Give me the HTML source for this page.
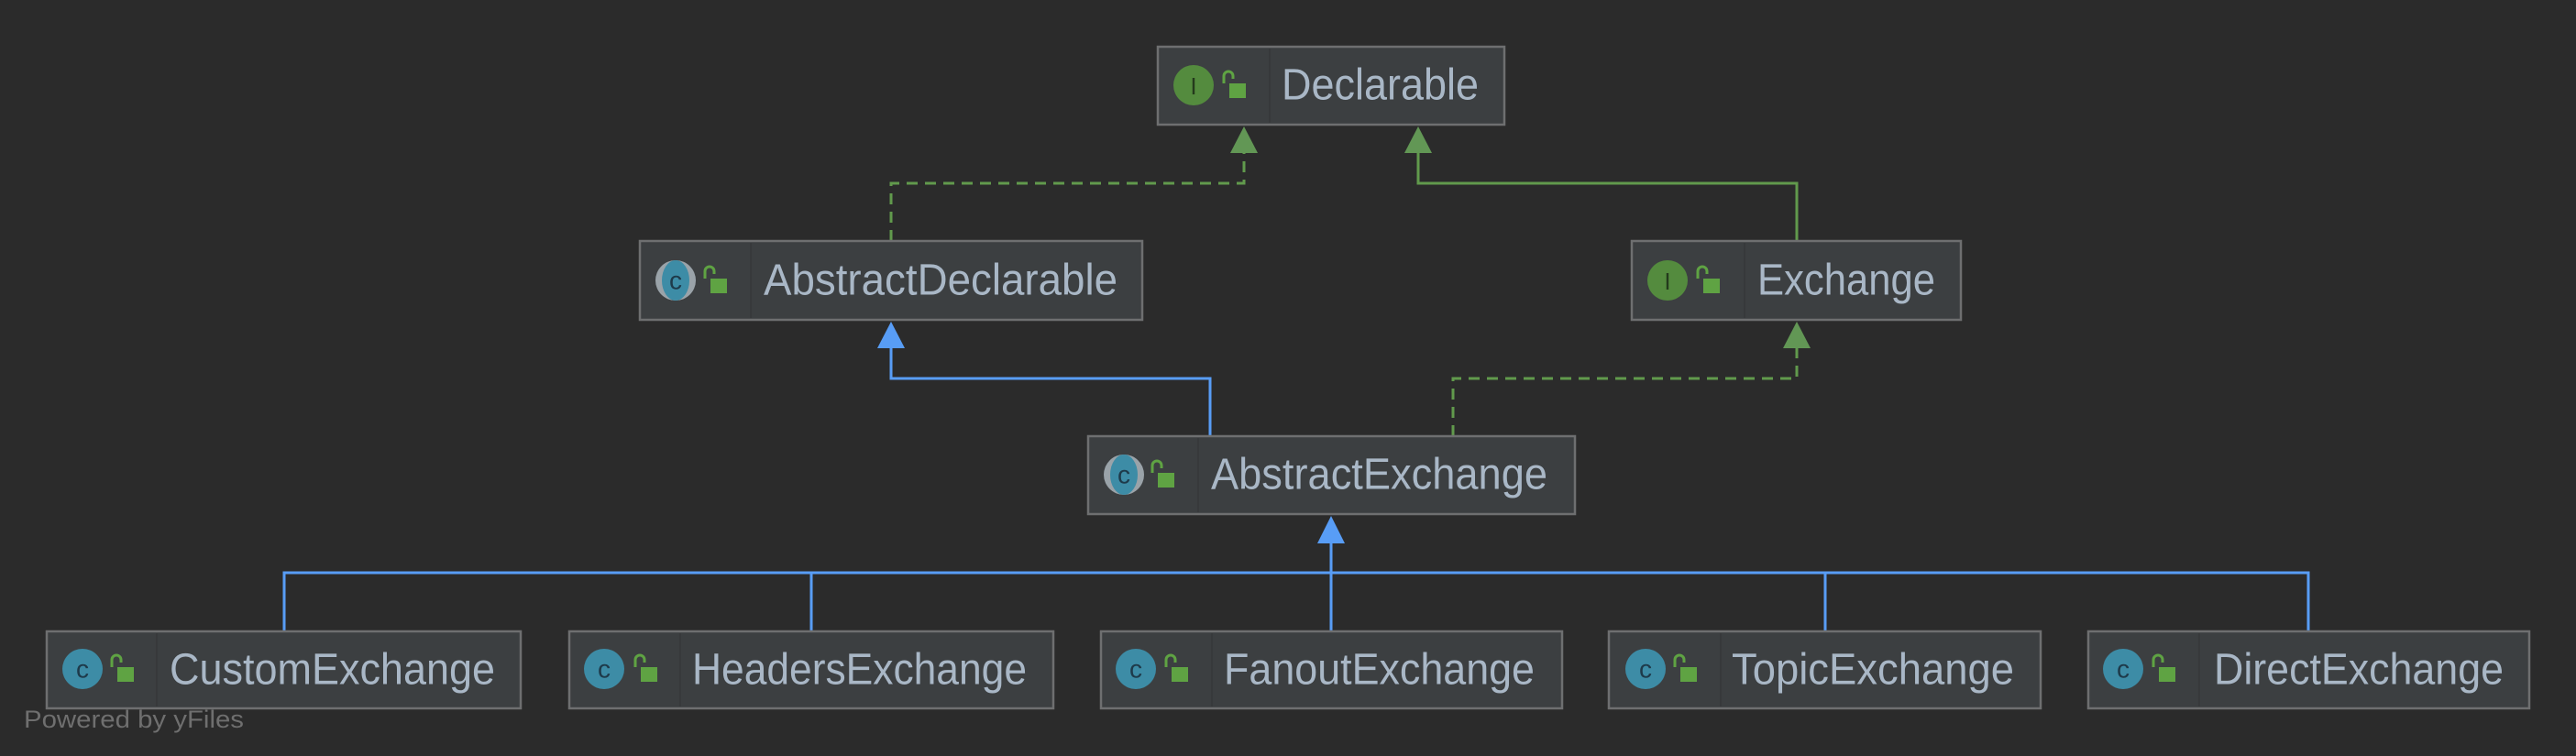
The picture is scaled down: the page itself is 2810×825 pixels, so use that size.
<!DOCTYPE html>
<html><head><meta charset="utf-8"><style>
html,body{margin:0;padding:0;background:#2b2b2b;}
svg{display:block;}
text{font-family:"Liberation Sans","DejaVu Sans",sans-serif;}
</style></head><body>
<svg width="2810" height="825" viewBox="0 0 2810 825" xmlns="http://www.w3.org/2000/svg">
<rect width="2810" height="825" fill="#2b2b2b"/>
<defs>
  <g id="lock">
    <path d="M-13,-4 V-12 a5,5 0 0 1 10,0 V-9" fill="none" stroke="#5fa343" stroke-width="3"/>
    <rect x="-7" y="-4" width="18" height="16" fill="#5fa343"/>
  </g>
  <g id="ci">
    <circle r="22" fill="#3d8ca6"/>
    <text x="0" y="0" font-size="28" fill="#1e3a4a" text-anchor="middle" dominant-baseline="central">c</text>
  </g>
  <g id="ca">
    <circle r="22" fill="#9aa3a9"/>
    <ellipse rx="15" ry="22" fill="#3d8ca6"/>
    <text x="0" y="0" font-size="28" fill="#1e3a4a" text-anchor="middle" dominant-baseline="central">c</text>
  </g>
  <g id="ii">
    <circle r="22" fill="#548b3e"/>
    <text x="0" y="1" font-size="26" fill="#243a1c" text-anchor="middle" dominant-baseline="central" font-family="Liberation Serif,serif">I</text>
  </g>
</defs>

<g fill="none" stroke-width="3">
  <path d="M972,263 V200 H1357 V165" stroke="#619a4c" stroke-dasharray="12 8"/>
  <path d="M1960,263 V200 H1547 V165" stroke="#619a4c"/>
  <path d="M1585,476 V413 H1960 V378" stroke="#619a4c" stroke-dasharray="12 8"/>
  <path d="M1320,476 V413 H972 V378" stroke="#589df6"/>
  <path d="M310,689 V625 H2518 V689 M885,625 V689 M1452,625 V689 M1452,625 V591 M1991,625 V689" stroke="#589df6"/>
</g>
<g>
  <polygon points="1357,138 1342,167 1372,167" fill="#629755"/>
  <polygon points="1547,138 1532,167 1562,167" fill="#629755"/>
  <polygon points="1960,351 1945,380 1975,380" fill="#629755"/>
  <polygon points="972,351 957,380 987,380" fill="#589df6"/>
  <polygon points="1452,563 1437,593 1467,593" fill="#589df6"/>
</g>

<g stroke="#6e6f70" stroke-width="2.5" fill="#3c3f41">
  <rect x="1263" y="51" width="378" height="85"/>
  <rect x="698" y="263" width="548" height="86"/>
  <rect x="1780" y="263" width="359" height="86"/>
  <rect x="1187" y="476" width="531" height="85"/>
  <rect x="51" y="689" width="517" height="84"/>
  <rect x="621" y="689" width="528" height="84"/>
  <rect x="1201" y="689" width="503" height="84"/>
  <rect x="1755" y="689" width="471" height="84"/>
  <rect x="2278" y="689" width="481" height="84"/>
</g>
<g stroke="#37393b" stroke-width="2">
  <line x1="1385" y1="53" x2="1385" y2="134"/>
  <line x1="819" y1="265" x2="819" y2="347"/>
  <line x1="1903" y1="265" x2="1903" y2="347"/>
  <line x1="1307" y1="478" x2="1307" y2="559"/>
  <line x1="171" y1="691" x2="171" y2="771"/>
  <line x1="742" y1="691" x2="742" y2="771"/>
  <line x1="1322" y1="691" x2="1322" y2="771"/>
  <line x1="1877" y1="691" x2="1877" y2="771"/>
  <line x1="2399" y1="691" x2="2399" y2="771"/>
</g>

<use href="#ii" x="1302" y="93"/><use href="#lock" x="1348" y="95"/>
<use href="#ca" x="737" y="306"/><use href="#lock" x="782" y="308"/>
<use href="#ii" x="1819" y="306"/><use href="#lock" x="1865" y="308"/>
<use href="#ca" x="1226" y="518"/><use href="#lock" x="1270" y="520"/>
<use href="#ci" x="90" y="730"/><use href="#lock" x="135" y="732"/>
<use href="#ci" x="659" y="730"/><use href="#lock" x="706" y="732"/>
<use href="#ci" x="1239" y="730"/><use href="#lock" x="1285" y="732"/>
<use href="#ci" x="1795" y="730"/><use href="#lock" x="1840" y="732"/>
<use href="#ci" x="2316" y="730"/><use href="#lock" x="2362" y="732"/>

<g fill="#a9b7c6" font-size="48" dominant-baseline="central">
  <text x="1398" y="93" textLength="215" lengthAdjust="spacingAndGlyphs">Declarable</text>
  <text x="833" y="306" textLength="386" lengthAdjust="spacingAndGlyphs">AbstractDeclarable</text>
  <text x="1917" y="306" textLength="194" lengthAdjust="spacingAndGlyphs">Exchange</text>
  <text x="1321" y="518" textLength="367" lengthAdjust="spacingAndGlyphs">AbstractExchange</text>
  <text x="185" y="731" textLength="355" lengthAdjust="spacingAndGlyphs">CustomExchange</text>
  <text x="755" y="731" textLength="365" lengthAdjust="spacingAndGlyphs">HeadersExchange</text>
  <text x="1335" y="731" textLength="339" lengthAdjust="spacingAndGlyphs">FanoutExchange</text>
  <text x="1889" y="731" textLength="308" lengthAdjust="spacingAndGlyphs">TopicExchange</text>
  <text x="2415" y="731" textLength="316" lengthAdjust="spacingAndGlyphs">DirectExchange</text>
</g>
<text x="26" y="785" font-size="27" fill="#6f6f6f" dominant-baseline="central" textLength="240" lengthAdjust="spacingAndGlyphs">Powered by yFiles</text>
</svg>
</body></html>
